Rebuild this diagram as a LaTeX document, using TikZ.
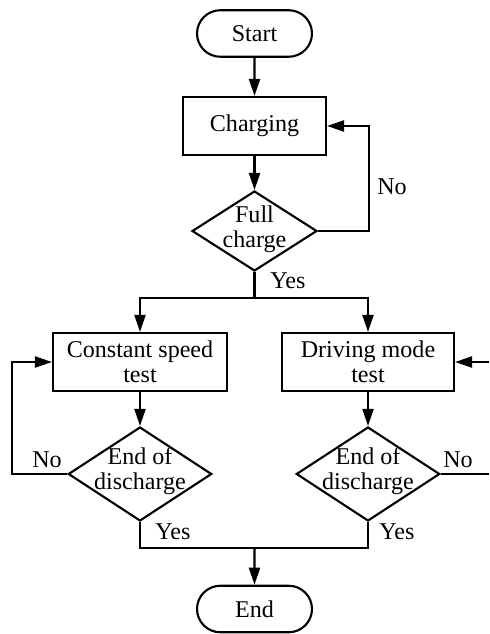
\documentclass[tikz,border=0pt]{standalone}
\usepackage{fontspec}
\setmainfont{Liberation Serif}
\usetikzlibrary{arrows.meta,shapes.geometric,shapes.misc}

\begin{document}
\begin{tikzpicture}[x=0.02cm,y=-0.02cm,
  every node/.style={font=\fontsize{13.7}{14.5}\selectfont},
  term/.style={draw,very thick,rounded rectangle,minimum width=2.3cm,minimum height=0.93cm,inner sep=0pt},
  proc/.style={draw,very thick,rectangle,minimum height=1.16cm,inner sep=0pt,align=center},
  cond/.style={draw,very thick,diamond,inner sep=0pt},
  txt/.style={align=center,inner sep=0pt},
  flow/.style={very thick,-{Triangle[length=0.34cm,width=0.22cm]}}]

\useasboundingbox (0,0) rectangle (489,634);

% nodes
\node[term] (start) at (254.5,33.5) {Start};
\node[proc,minimum width=2.86cm] (charge) at (254.5,126) {Charging};
\node[cond,minimum width=2.5cm,minimum height=1.6cm] (full) at (254.5,231) {};
\node[txt] (fulltxt) at (254.5,229) {Full\\charge};

\node[proc,minimum width=3.48cm] (cst) at (140,362) {Constant speed\\test};
\node[proc,minimum width=3.44cm] (dmt) at (368,362) {Driving mode\\test};

\foreach \x/\n in {140/1,368/2}
{
\node[cond,minimum width=2.87cm,minimum height=1.88cm] (dis\n) at (\x,474) {};
\node[txt] (dist\n) at (\x,471) {End of\\discharge};
}

\node[term] (end) at (254.5,609) {End};

% helper points
\coordinate (fullno) at (369,231);
\coordinate (split) at (254.5,298);
\coordinate (join) at (254.5,548);
\coordinate (leftno) at (12,474);
\coordinate (rightno) at (489,474);
\coordinate (rightin) at (489,362);

% connectors
\draw[flow] (start) -- (charge);
\draw[flow] (charge) -- (full);
\draw[flow] (full.east) -- (fullno) |- (charge.east);
\draw[very thick] (full.south) -- (split);
\draw[flow] (split) -| (cst.north);
\draw[flow] (split) -| (dmt.north);
\draw[flow] (cst) -- (dis1);
\draw[flow] (dmt) -- (dis2);
\draw[flow] (dis1.west) -- (leftno) |- (cst.west);
\draw[very thick] (dis2.east) -- (rightno);
\draw[flow] (rightin) -- (dmt.east);
\draw[very thick] (dis1.south) |- (join) -| (dis2.south);
\draw[flow] (join) -- (end);

% labels
\node (no1) at (392,187) {No};
\node (yes1) at (288,281) {Yes};
\node (no2) at (47,460) {No};
\node (no3) at (458,460) {No};
\node (yes2) at (173,532) {Yes};
\node (yes3) at (397,532) {Yes};
\end{tikzpicture}
\end{document}
